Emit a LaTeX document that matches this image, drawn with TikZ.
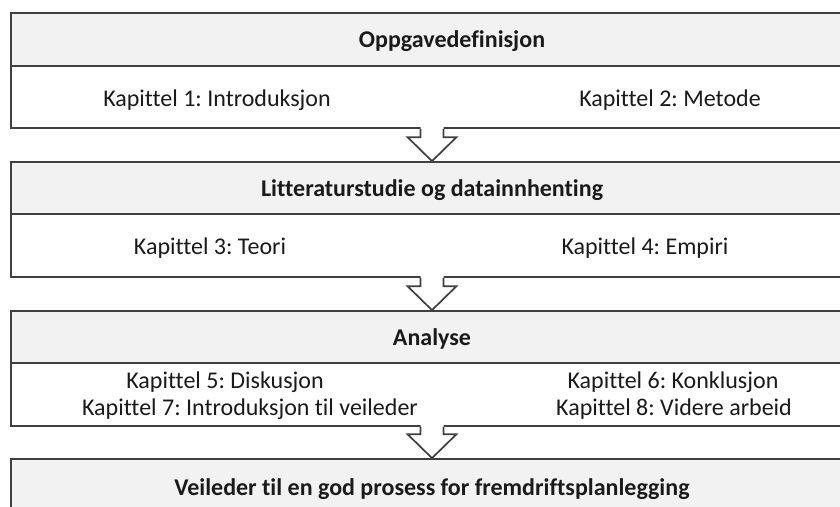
\documentclass[tikz,border=0pt]{standalone}
\usepackage{fontspec}
\setmainfont{Carlito}[Ligatures=NoCommon]
\usetikzlibrary{calc}
\frenchspacing

\definecolor{edge}{HTML}{404040}
\definecolor{headfill}{HTML}{F2F2F2}
\definecolor{ink}{HTML}{1A1A1A}

\tikzset{
  box/.style={draw=edge, line width=1.3pt, inner sep=0pt, minimum width=631.5pt},
  headbox/.style={box, fill=headfill},
  bodybox/.style={box, fill=white},
  titletext/.style={anchor=base, inner sep=0pt, text=ink, font=\fontsize{18}{22}\selectfont\bfseries},
  entrytext/.style={anchor=base, inner sep=0pt, text=ink, font=\fontsize{18}{22}\selectfont},
  flowline/.style={draw=edge, line width=1.3pt, line join=miter},
}

% hollow block arrow from the bottom of one stage to the top of the next
\newcommand{\stagearrow}[2]{%
  \fill[white] ($(#1.south)+(-11.5,-2)$) -- ($(#2.north)+(-11.5,-24)$)
    -- ($(#2.north)+(-24.5,-24)$) -- (#2.north) -- ($(#2.north)+(24.5,-24)$)
    -- ($(#2.north)+(11.5,-24)$) -- ($(#1.south)+(11.5,-2)$) -- cycle;
  \draw[flowline] ($(#1.south)+(-11.5,0)$) -- ($(#2.north)+(-11.5,-24)$)
    -- ($(#2.north)+(-24.5,-24)$) -- (#2.north) -- ($(#2.north)+(24.5,-24)$)
    -- ($(#2.north)+(11.5,-24)$) -- ($(#1.south)+(11.5,0)$);
}

\begin{document}
\begin{tikzpicture}[x=0.75pt, y=-0.75pt]
  \useasboundingbox (0,0) rectangle (840,507);
  \clip (0,0) rectangle (840,507);

  % stage 1
  \node[headbox, minimum height=39.75pt] (h1) at (432,39.5) {};
  \node[bodybox, minimum height=46.5pt] (b1) at (432,97) {};
  % stage 2
  \node[headbox, minimum height=39pt] (h2) at (432,188) {};
  \node[bodybox, minimum height=47.25pt] (b2) at (432,245.5) {};
  % stage 3
  \node[headbox, minimum height=39pt] (h3) at (432,337) {};
  \node[bodybox, minimum height=47.25pt] (b3) at (432,394.5) {};
  % stage 4
  \node[headbox, minimum height=42pt] (h4) at (432,487) {};

  \stagearrow{b1}{h2}
  \stagearrow{b2}{h3}
  \stagearrow{b3}{h4}

  % stage titles
  \node[titletext] (t1) at (452,47) {Oppgavedefinisjon};
  \node[titletext] (t2) at (432,196) {Litteraturstudie og datainnhenting};
  \node[titletext] (t3) at (432,345) {Analyse};
  \node[titletext] (t4) at (432,495) {Veileder til en god prosess for fremdriftsplanlegging};

  % chapters
  \node[entrytext] (k1) at (217,106) {Kapittel 1: Introduksjon};
  \node[entrytext] (k2) at (670,106) {Kapittel 2: Metode};
  \node[entrytext] (k3) at (210,254) {Kapittel 3: Teori};
  \node[entrytext] (k4) at (645,254) {Kapittel 4: Empiri};
  \node[entrytext] (k5) at (225,388) {Kapittel 5: Diskusjon};
  \node[entrytext] (k7) at (250,415) {Kapittel 7: Introduksjon til veileder};
  \node[entrytext] (k6) at (673,388) {Kapittel 6: Konklusjon};
  \node[entrytext] (k8) at (674,415) {Kapittel 8: Videre arbeid};
\end{tikzpicture}
\end{document}
